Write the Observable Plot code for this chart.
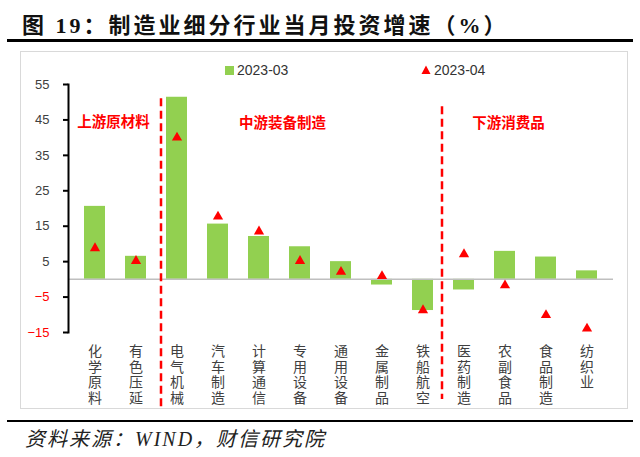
<!DOCTYPE html>
<html><head><meta charset="utf-8">
<script src="https://cdn.jsdelivr.net/npm/d3@7"></script>
<script src="https://cdn.jsdelivr.net/npm/@observablehq/plot@0.6"></script>
<style>
body{margin:0;width:640px;height:457px;position:relative;background:#fff;overflow:hidden;font-family:"Noto Sans CJK SC",sans-serif}
#title{position:absolute;left:22px;top:7px;font-weight:bold;font-size:22px;font-family:"Liberation Serif","Noto Sans CJK SC";letter-spacing:3px;color:#111;white-space:nowrap}
.hr{position:absolute;left:7px;width:626px;height:2.6px;background:#000}
#frame{position:absolute;left:20px;top:51px;width:608px;height:358px;border:1px solid #d9d9d9;box-sizing:border-box}
#chart{position:absolute;left:20px;top:52px}
.leg{position:absolute;top:62px;font-size:14px;font-family:"Liberation Sans";color:#333;display:flex;align-items:center;white-space:nowrap}
#caption{position:absolute;left:25px;top:423px;font-style:italic;font-size:20px;font-family:"Liberation Serif","Noto Sans CJK SC";letter-spacing:2px;color:#222;white-space:nowrap}
</style></head>
<body>
<div id="title"></div>
<div class="hr" style="top:39px"></div>
<div id="frame"></div>
<div id="chart"></div>
<div class="leg" id="leg1" style="left:225px"></div>
<div class="leg" id="leg2" style="left:421px"></div>
<div class="hr" style="top:419.5px"></div>
<div id="caption"></div>
<script>
const titleText = "图 19：制造业细分行业当月投资增速（%）";
const captionText = "资料来源：WIND，财信研究院";
const categories = ["化学原料","有色压延","电气机械","汽车制造","计算通信","专用设备","通用设备","金属制品","铁船航空","医药制造","农副食品","食品制造","纺织业"];
const mar2023 = [20.6,6.5,51.4,15.6,12.1,9.2,5.0,-1.6,-8.8,-3.0,7.9,6.3,2.4];
const apr2023 = [8.8,5.2,40.0,17.7,13.5,5.2,2.1,0.9,-8.7,7.1,-1.7,-10.1,-13.9];
const yTicksPos = [55,45,35,25,15,5];
const yTicksNeg = [-5,-15];
const seriesNames = ["2023-03","2023-04"];
const sections = ["上游原材料","中游装备制造","下游消费品"];

document.getElementById("title").textContent = titleText;
document.getElementById("caption").textContent = captionText;
document.getElementById("leg1").innerHTML = '<span style="display:inline-block;width:9px;height:9px;background:#92d050;margin-right:3px"></span>' + seriesNames[0];
document.getElementById("leg2").innerHTML = '<svg width="10" height="10" style="margin-right:3px"><polygon points="5,0.5 9.5,9 0.5,9" fill="#ff0000"/></svg>' + seriesNames[1];

const data = categories.map((c, i) => ({cat: c, mar: mar2023[i], apr: apr2023[i]}));

const red = "#ff0000";
const plot = Plot.plot({
  width: 607, height: 357,
  marginLeft: 48, marginRight: 14, marginTop: 32, marginBottom: 77,
  x: {domain: categories, paddingInner: 0.5, paddingOuter: 0.25, label: null},
  y: {domain: [-15, 55], label: null},
  style: {overflow: "visible", background: "transparent"},
  marks: [
    Plot.barY(data, {x: "cat", y: "mar", fill: "#92d050"}),
    Plot.ruleY([0], {stroke: "#bfbfbf", strokeWidth: 1.5}),
    Plot.frame({anchor: "left", stroke: "#000", strokeWidth: 2}),
    Plot.axisY(yTicksPos, {tickSize: 5, tickPadding: 14, stroke: "#000", strokeWidth: 2, fill: "#404040", fontSize: 13, fontFamily: "Liberation Sans", label: null}),
    Plot.axisY(yTicksNeg, {tickSize: 5, tickPadding: 14, stroke: "#000", strokeWidth: 2, fill: red, fontSize: 13, fontFamily: "Liberation Sans", label: null}),
    Plot.axisX({tickSize: 0, tickPadding: 13, tickFormat: d => [...d].join("\n"), lineHeight: 1.1, fontSize: 14, fill: "#404040", fontFamily: "Noto Sans CJK SC", label: null}),
    Plot.dot(data, {x: "cat", y: "apr", symbol: "triangle", fill: red, r: 3.8}),
    Plot.ruleX([categories[1]], {y1: 51, y2: -36.3, dx: 25, stroke: red, strokeWidth: 2.5, strokeDasharray: "8,4.5"}),
    Plot.ruleX([categories[8]], {y1: 48.7, y2: -33.9, dx: 19, stroke: red, strokeWidth: 2.5, strokeDasharray: "8,4.5"}),
    Plot.text([sections[0]], {x: [categories[0]], y: [44.4], text: d => d, dx: 18.5, fill: red, fontWeight: "bold", fontSize: 14.5, fontFamily: "Noto Sans CJK SC"}),
    Plot.text([sections[1]], {x: [categories[4]], y: [44.1], text: d => d, dx: 23.6, fill: red, fontWeight: "bold", fontSize: 14.5, fontFamily: "Noto Sans CJK SC"}),
    Plot.text([sections[2]], {x: [categories[10]], y: [44.1], text: d => d, dx: 3.5, fill: red, fontWeight: "bold", fontSize: 14.5, fontFamily: "Noto Sans CJK SC"})
  ]
});
document.getElementById("chart").appendChild(plot);
</script>
</body></html>
